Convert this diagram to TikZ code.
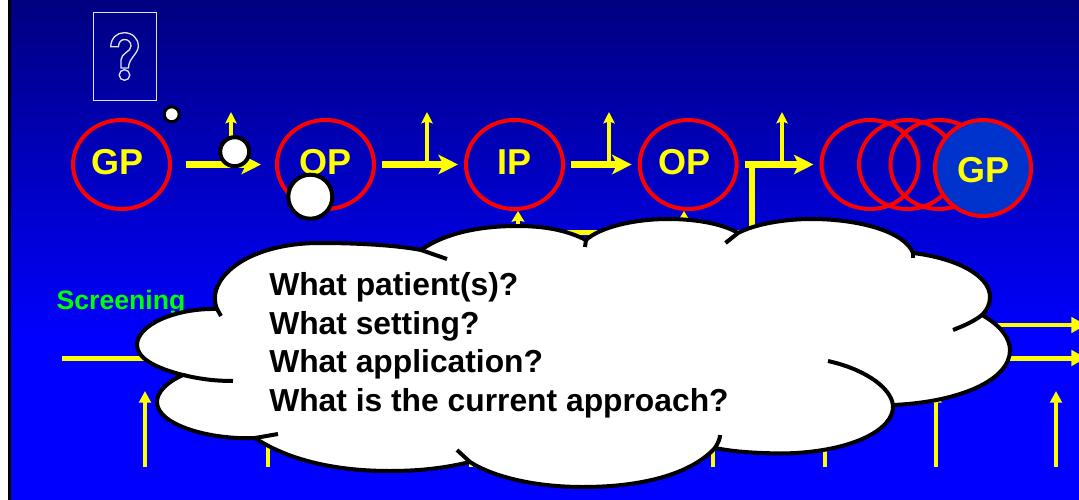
\documentclass[tikz,border=0pt]{standalone}
\usepackage{fontspec}
\setmainfont{Liberation Sans}
\usepackage{tikz}
\usetikzlibrary{shapes,arrows.meta}
\definecolor{slideTop}{RGB}{0,0,128}
\definecolor{slideBlue}{RGB}{0,0,255}
\definecolor{stageRed}{RGB}{255,0,0}
\definecolor{flowYellow}{RGB}{255,255,0}
\definecolor{gpFill}{RGB}{0,51,204}
\definecolor{screenGreen}{RGB}{0,255,0}
\definecolor{glyphLine}{RGB}{225,225,250}

\begin{document}
\begin{tikzpicture}[x=0.75pt, y=-0.75pt,
      stage/.style={ellipse, draw=stageRed, line width=3pt, inner sep=0pt, minimum width=72.75pt, minimum height=66.75pt, text=flowYellow, text depth=3.7pt, font=\fontsize{27pt}{27pt}\selectfont\bfseries},
      gpstage/.style={stage, fill=gpFill, minimum width=72pt, minimum height=72pt, text depth=0pt, text height=21.5pt},
      flow/.style={-{Stealth[length=14.6pt, width=14.5pt, inset=3.5pt]}, line width=5.25pt, draw=flowYellow, shorten <=4.5pt, shorten >=4.5pt},
      branch/.style={-{Stealth[length=8.5pt, width=8.5pt, inset=1.5pt]}, line width=2.6pt, draw=flowYellow},
      feed/.style={-{Stealth[length=8pt, width=9.5pt, inset=1pt]}, line width=3pt, draw=flowYellow},
      rise/.style={-{Triangle[length=8.8pt, width=8.8pt]}, line width=3pt, draw=flowYellow},
      rail/.style={-{Triangle[length=11pt, width=11.5pt]}, line width=3.75pt, draw=flowYellow},
      dot/.style={circle, draw=black, fill=white, line width=3pt, inner sep=0pt},
      cloudline/.style={draw=black, line width=3pt},
      glyph/.style={draw=glyphLine, line width=1pt}
    ]
      \useasboundingbox (0,0) rectangle (1079,500);
      % slide background
      \fill[white] (0,0) rectangle (1079,500);
      \fill[black] (8,0) rectangle (1079,500);
      \shade[top color=slideTop, bottom color=slideBlue] (11,0) rectangle (1079,340);
      \fill[slideBlue] (11,339) rectangle (1079,500);

      \node[rectangle, draw=glyphLine, line width=0.75pt, minimum width=47.25pt, minimum height=66pt, inner sep=0pt] (qbox) at (124.5,56.2) {};
      \draw[glyph] (110.7,46.7) .. controls (111,38) and (117,32.7) .. (124,32.7) .. controls (132,32.7) and (138.3,38) .. (138.3,46) .. controls (138.3,54) and (128.5,58) .. (128.5,68) -- (121,68) -- (121,60) .. controls (121,53) and (131,52) .. (131,46) .. controls (131,42) and (128,39.5) .. (124.5,39.5) .. controls (121,39.5) and (118.5,42.5) .. (118.5,46.7) -- cycle;
      \draw[glyph] (124.5,75) circle (5.3);

      % stages
      \node[stage] (gpa) at (121.5,164.5) {\kern-6pt GP};
      \node[stage] (opa) at (325.5,164.5) {OP};
      \node[stage] (ip) at (514.5,164.5) {IP};
      \node[stage] (opb) at (688.2,164.5) {\kern-5pt OP};
      \node[stage] (grpa) at (870,164.5) {};
      \node[stage] (grpb) at (907.5,164.5) {};
      \node[stage] (grpc) at (939,164.5) {};
      \node[gpstage] (gpb) at (983,168) {GP};

      % main flow
      \draw[flow, shorten <=10.5pt, shorten >=10.5pt] (gpa.east) -- (opa.west);
      \draw[flow] (opa.east) -- (ip.west);
      \draw[flow] (ip.east) -- (opb.west);
      \draw[flow] (opb.east) -- (grpa.west);
      \coordinate (upa) at (231,112);
      \coordinate (upb) at (427,112);
      \coordinate (upc) at (609,112);
      \coordinate (upd) at (782,112);
      \draw[branch] (upa|-gpa.east) -- (upa);
      \draw[branch] (upb|-gpa.east) -- (upb);
      \draw[branch] (upc|-gpa.east) -- (upc);
      \draw[branch] (upd|-gpa.east) -- (upd);

      % feeds under the stages
      \coordinate (busl) at (518,232);
      \coordinate (busm) at (684,232);
      \coordinate (busr) at (752,232);
      \draw[line width=3.75pt, draw=flowYellow] (busl) -- (busr);
      \draw[line width=4.5pt, draw=flowYellow] (busr) -- (busr|-opb.east);
      \draw[feed] (busl) -- (busl|-ip.south);
      \draw[feed] (busm) -- (busm|-opb.south);

      \node[font=\fontsize{20pt}{20pt}\selectfont\bfseries, text=screenGreen, inner sep=0pt] (screening) at (121,303) {Screening};

      % rails to the right
      \coordinate (raila) at (62,358);
      \coordinate (railb) at (1086,358);
      \coordinate (railc) at (900,325);
      \coordinate (raild) at (1086,325);
      \draw[rail] (raila) -- (railb);
      \draw[rail, line width=2.5pt] (railc) -- (raild);

      % arrows from below
      \coordinate (risea) at (145,467); \coordinate (topa) at (145,391);
      \coordinate (riseb) at (268,467); \coordinate (topb) at (268,391);
      \coordinate (risec) at (470.5,467); \coordinate (topc) at (470.5,391);
      \coordinate (rised) at (713,467); \coordinate (topd) at (713,391);
      \coordinate (risee) at (824.5,467); \coordinate (tope) at (824.5,391);
      \coordinate (risef) at (935.5,467); \coordinate (topf) at (935.5,391);
      \coordinate (riseg) at (1056,467); \coordinate (topg) at (1056,391);
      \draw[rise] (risea) -- (topa);
      \draw[rise] (riseb) -- (topb);
      \draw[rise] (risec) -- (topc);
      \draw[rise] (rised) -- (topd);
      \draw[rise] (risee) -- (tope);
      \draw[rise] (risef) -- (topf);
      \draw[rise] (riseg) -- (topg);

      % markers
      \node[dot, line width=2.25pt, minimum size=11.25pt] (dotsmall) at (171.7,114.3) {};
      \node[dot, minimum size=21.75pt] (dotmid) at (234.7,151.7) {};
      \node[dot, minimum size=33pt] (dotbig) at (310.3,196.7) {};

      % cloud
      \filldraw[cloudline, fill=white] (217,309) .. controls (205,280) and (245,243) .. (320,243) .. controls (355,243) and (395,245) .. (421,250)
        .. controls (445,233) and (480,226) .. (517,226) .. controls (550,226) and (570,232) .. (586,240)
        .. controls (600,227) and (635,219) .. (668,219) .. controls (700,219) and (725,225) .. (738,233)
        .. controls (755,224) and (785,219) .. (811,219) .. controls (860,219) and (905,232) .. (913,253)
        .. controls (955,258) and (990,275) .. (990,297) .. controls (990,304) and (987,310) .. (982,315)
        .. controls (1000,325) and (1010,338) .. (1010,350) .. controls (1010,380) and (960,402) .. (893,405)
        .. controls (895,430) and (850,453) .. (780,453.5) .. controls (755,453) and (735,452) .. (715,448)
        .. controls (690,475) and (640,487) .. (583,487) .. controls (530,487) and (490,475) .. (470,462)
        .. controls (445,468) and (420,471) .. (390,471) .. controls (330,471) and (285,458) .. (255,438)
        .. controls (210,440) and (157,425) .. (157,402) .. controls (157,392) and (167,382) .. (183,375)
        .. controls (155,368) and (137,358) .. (137,345) .. controls (137,325) and (175,308) .. (217,309) -- cycle;
      \draw[cloudline] (217,309) -- (221,316);
      \draw[cloudline] (421,250) -- (447,259);
      \draw[cloudline] (586,240) -- (585,247);
      \draw[cloudline] (738,233) -- (725.5,243);
      \draw[cloudline] (913,253) -- (913,258);
      \draw[cloudline] (982,315) .. controls (973,322) and (963,326) .. (953,330);
      \draw[cloudline] (893,405) .. controls (890,385) and (860,368) .. (828,361);
      \draw[cloudline] (715,448) .. controls (718,443) and (720,439) .. (720,435);
      \draw[cloudline] (470,462) -- (457,450);
      \draw[cloudline] (255,438) -- (278,434);
      \draw[cloudline] (183,375) .. controls (200,379) and (215,381) .. (233,381);

      \node[anchor=west, align=left, inner sep=0pt, font=\fontsize{23.85pt}{28.9pt}\selectfont\bfseries] (questions) at (269,345.5) {What patient(s)?\\What setting?\\What application?\\What is the current approach?};
    \end{tikzpicture}
\end{document}
